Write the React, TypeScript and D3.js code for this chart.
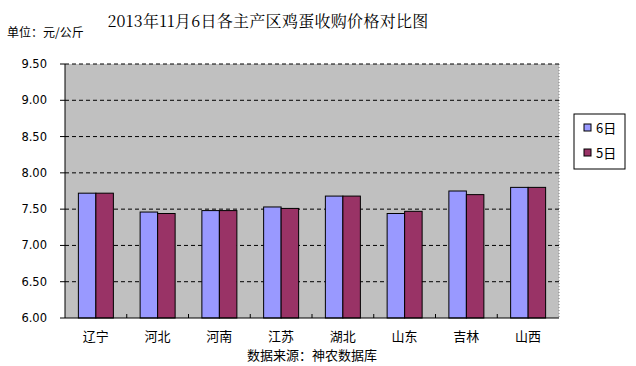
import React from 'react';
import * as d3 from 'd3';

const categories = ['辽宁', '河北', '河南', '江苏', '湖北', '山东', '吉林', '山西'];
const seriesNames = ['6日', '5日'];
const day6 = [7.72, 7.46, 7.48, 7.53, 7.68, 7.44, 7.75, 7.80];
const day5 = [7.72, 7.44, 7.48, 7.51, 7.68, 7.47, 7.70, 7.80];
const yTicks = [6.0, 6.5, 7.0, 7.5, 8.0, 8.5, 9.0, 9.5];
const colors = ['#9999FF', '#993366'];

const W = 636;
const H = 366;
const left = 65;
const right = 559;
const top = 64;
const bottom = 318;

const App: React.FC = () => {
  const x = d3.scaleBand<string>().domain(categories).range([left, right]).paddingInner(0).paddingOuter(0);
  const y = d3.scaleLinear().domain([6, 9.5]).range([bottom, top]);
  const inner = d3.scaleBand<string>().domain(seriesNames).range([0, 35]);
  const series = [day6, day5];

  const cjk = '"Noto Sans CJK SC", sans-serif';

  return (
    <svg width={W} height={H} style={{ position: 'absolute', left: 0, top: 0, background: '#fff' }}>
      <rect x={0} y={0} width={W} height={H} fill="#fff" />
      {/* title */}
      <text x={268} y={27} textAnchor="middle" fontFamily={'"Noto Serif CJK SC", "Noto Sans CJK SC", serif'} fontSize={16} letterSpacing={0.3}>
        2013年11月6日各主产区鸡蛋收购价格对比图
      </text>
      <text x={7} y={37} fontFamily={cjk} fontSize={12}>单位：元/公斤</text>

      {/* plot background */}
      <rect x={left} y={top} width={right - left} height={bottom - top} fill="#C0C0C0" />
      <line x1={right} x2={right} y1={top} y2={bottom} stroke="#808080" strokeDasharray="1,2" />

      {/* gridlines */}
      {yTicks.filter((t) => t > 6).map((t) => (
        <line key={t} x1={left} x2={right} y1={y(t)} y2={y(t)} stroke="#000" strokeDasharray="4,3" />
      ))}

      {/* bars */}
      {categories.map((c, i) => {
        const bx = (x(c) ?? 0) + (x.bandwidth() - 35) / 2;
        return (
          <g key={c}>
            {series.map((s, j) => (
              <rect
                key={j}
                x={bx + (inner(seriesNames[j]) ?? 0)}
                y={y(s[i])}
                width={inner.bandwidth()}
                height={bottom - y(s[i])}
                fill={colors[j]}
                stroke="#000"
                strokeWidth={1}
              />
            ))}
          </g>
        );
      })}

      {/* axes */}
      <line x1={left} x2={left} y1={top} y2={bottom} stroke="#000" />
      <line x1={left} x2={right} y1={bottom} y2={bottom} stroke="#000" />
      {yTicks.map((t) => (
        <g key={t}>
          <line x1={left - 5} x2={left} y1={y(t)} y2={y(t)} stroke="#000" />
          <text x={47} y={y(t) + 4} textAnchor="end" fontFamily='"DejaVu Sans", sans-serif' fontSize={11.5} fill="#000">
            {t.toFixed(2)}
          </text>
        </g>
      ))}
      {categories.map((c, i) => (
        <g key={c}>
          {i > 0 && <line x1={x(c)} x2={x(c)} y1={bottom - 4} y2={bottom} stroke="#000" />}
          <text x={(x(c) ?? 0) + x.bandwidth() / 2} y={341} textAnchor="middle" fontFamily={cjk} fontSize={13}>
            {c}
          </text>
        </g>
      ))}
      <text x={312} y={360} textAnchor="middle" fontFamily={cjk} fontSize={13}>数据来源：神农数据库</text>

      {/* legend */}
      <rect x={574} y={114} width={51} height={55} fill="#fff" stroke="#000" />
      {seriesNames.map((n, j) => (
        <g key={n}>
          <rect x={584} y={124 + j * 25} width={7} height={7} fill={colors[j]} stroke="#000" />
          <text x={596} y={133 + j * 25} fontFamily={cjk} fontSize={13}>{n}</text>
        </g>
      ))}
    </svg>
  );
};

export default App;
